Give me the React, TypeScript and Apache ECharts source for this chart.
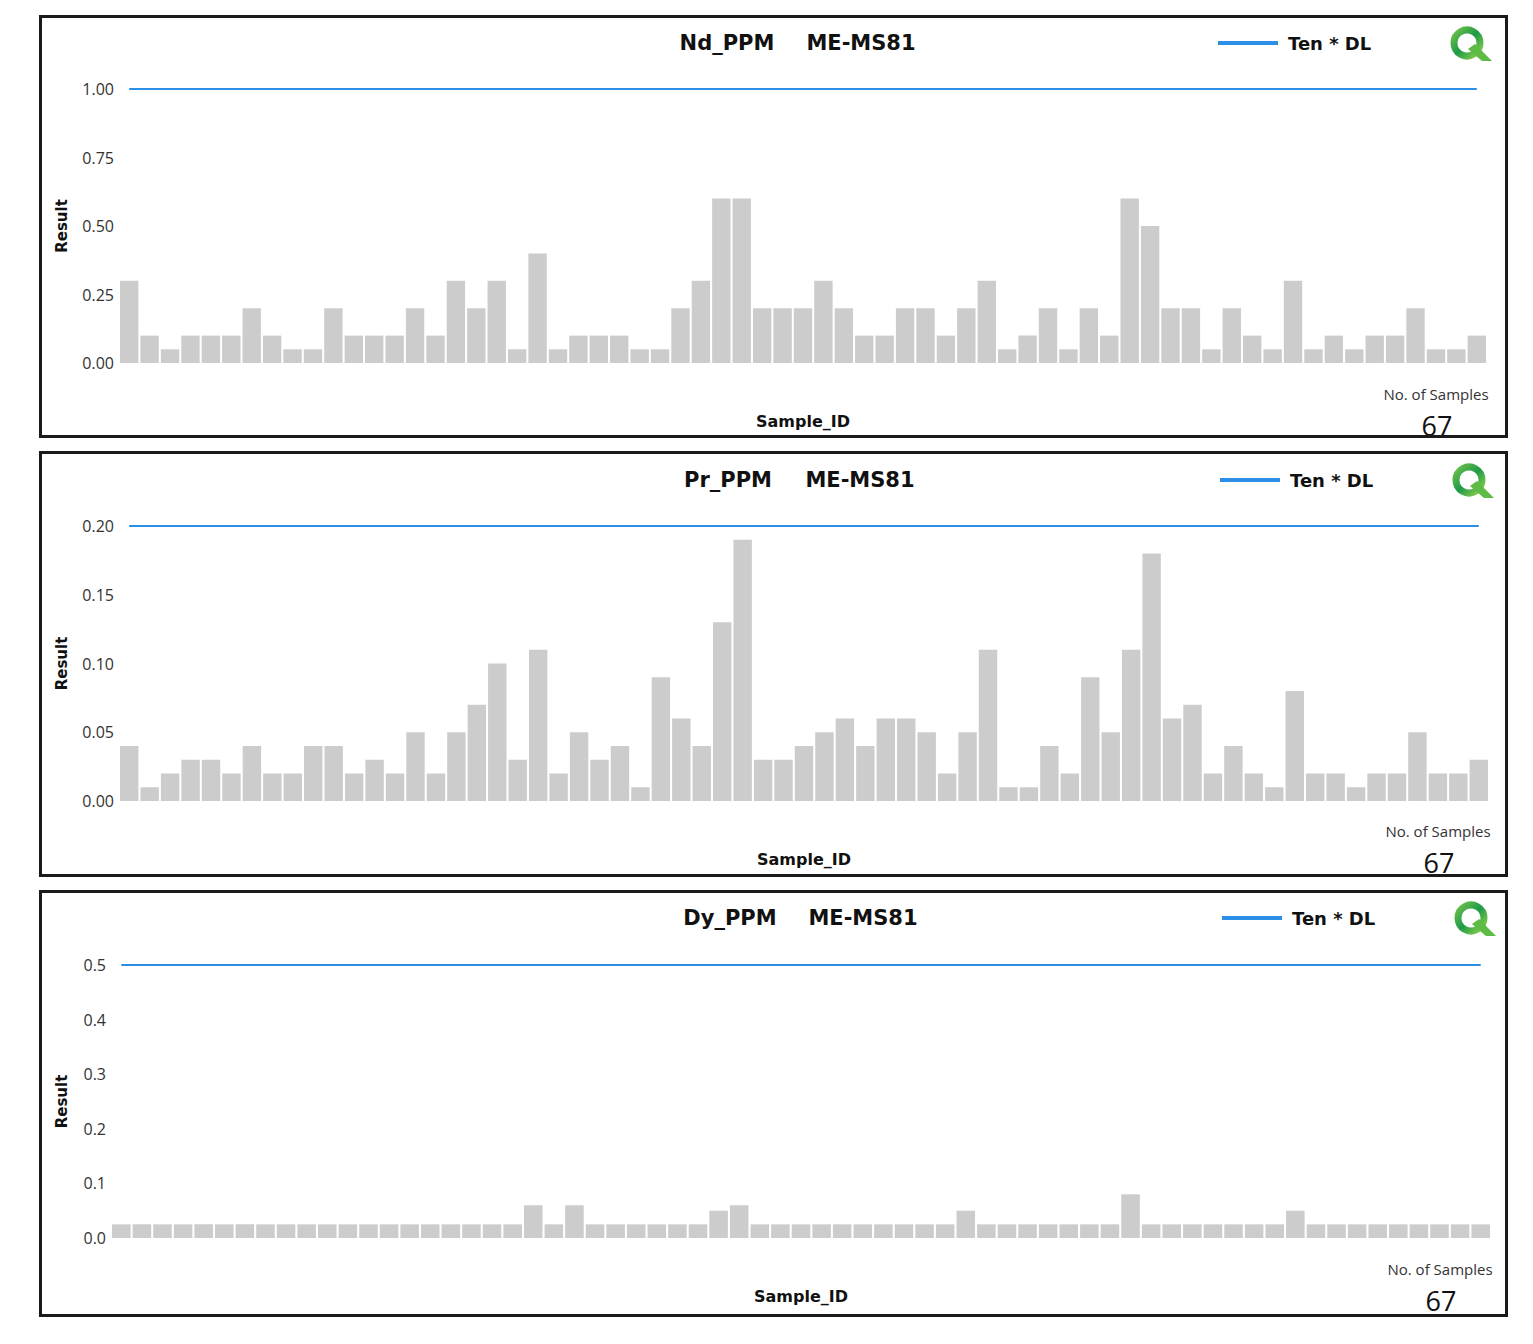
import React, { useEffect, useRef } from "react";
import * as echarts from "echarts";

// ---------- data ----------
const sampleCount = 67;
const categories = Array.from({ length: sampleCount }, (_, i) => String(i + 1));

const ndValues = [
  0.3, 0.1, 0.05, 0.1, 0.1, 0.1, 0.2, 0.1, 0.05, 0.05,
  0.2, 0.1, 0.1, 0.1, 0.2, 0.1, 0.3, 0.2, 0.3, 0.05,
  0.4, 0.05, 0.1, 0.1, 0.1, 0.05, 0.05, 0.2, 0.3, 0.6,
  0.6, 0.2, 0.2, 0.2, 0.3, 0.2, 0.1, 0.1, 0.2, 0.2,
  0.1, 0.2, 0.3, 0.05, 0.1, 0.2, 0.05, 0.2, 0.1, 0.6,
  0.5, 0.2, 0.2, 0.05, 0.2, 0.1, 0.05, 0.3, 0.05, 0.1,
  0.05, 0.1, 0.1, 0.2, 0.05, 0.05, 0.1,
];

const prValues = [
  0.04, 0.01, 0.02, 0.03, 0.03, 0.02, 0.04, 0.02, 0.02, 0.04,
  0.04, 0.02, 0.03, 0.02, 0.05, 0.02, 0.05, 0.07, 0.1, 0.03,
  0.11, 0.02, 0.05, 0.03, 0.04, 0.01, 0.09, 0.06, 0.04, 0.13,
  0.19, 0.03, 0.03, 0.04, 0.05, 0.06, 0.04, 0.06, 0.06, 0.05,
  0.02, 0.05, 0.11, 0.01, 0.01, 0.04, 0.02, 0.09, 0.05, 0.11,
  0.18, 0.06, 0.07, 0.02, 0.04, 0.02, 0.01, 0.08, 0.02, 0.02,
  0.01, 0.02, 0.02, 0.05, 0.02, 0.02, 0.03,
];

const dyValues = [
  0.025, 0.025, 0.025, 0.025, 0.025, 0.025, 0.025, 0.025, 0.025, 0.025,
  0.025, 0.025, 0.025, 0.025, 0.025, 0.025, 0.025, 0.025, 0.025, 0.025,
  0.06, 0.025, 0.06, 0.025, 0.025, 0.025, 0.025, 0.025, 0.025, 0.05,
  0.06, 0.025, 0.025, 0.025, 0.025, 0.025, 0.025, 0.025, 0.025, 0.025,
  0.025, 0.05, 0.025, 0.025, 0.025, 0.025, 0.025, 0.025, 0.025, 0.08,
  0.025, 0.025, 0.025, 0.025, 0.025, 0.025, 0.025, 0.05, 0.025, 0.025,
  0.025, 0.025, 0.025, 0.025, 0.025, 0.025, 0.025,
];

const elements = ["Nd_PPM", "Pr_PPM", "Dy_PPM"];
const methodCode = "ME-MS81";
const limitName = "Ten * DL";
const tenTimesDL = [1.0, 0.2, 0.5];
const yMax = [1.0, 0.2, 0.5];
const yInterval = [0.25, 0.05, 0.1];
const yDecimals = [2, 2, 1];
const seriesValues = [ndValues, prValues, dyValues];

// ---------- layout (page pixels) ----------
const layout = [
  { box: [39, 15, 1508, 438], grid: [119, 89, 1368, 274], title: [727, 861, 43], legend: [1218, 46], logo: [1450, 26], count: [1436, 394, 425], yName: 50 },
  { box: [39, 451, 1508, 877], grid: [119, 526, 1370, 275], title: [728, 860, 480], legend: [1220, 483], logo: [1452, 463], count: [1438, 831, 862], yName: 50 },
  { box: [39, 890, 1508, 1317], grid: [111, 965, 1380, 273], title: [730, 863, 918], legend: [1222, 921], logo: [1454, 901], count: [1440, 1269, 1300], yName: 42 },
];

const BLUE = "#2b8fe8";
const BAR = "#cccccc";
const SANS = "'Open Sans', 'Noto Sans', sans-serif";
const BOLD = "'DejaVu Sans', sans-serif";

function buildOption() {
  const grid: any[] = [];
  const xAxis: any[] = [];
  const yAxis: any[] = [];
  const series: any[] = [];
  const legend: any[] = [];
  const graphic: any[] = [];

  layout.forEach((L, i) => {
    const [gx, gy, gw, gh] = L.grid;
    grid.push({ left: gx, top: gy, width: gw, height: gh, containLabel: false });
    xAxis.push({
      type: "category",
      gridIndex: i,
      data: categories,
      boundaryGap: true,
      axisLine: { show: false },
      axisTick: { show: false },
      axisLabel: { show: false },
      name: "Sample_ID",
      nameLocation: "middle",
      nameGap: 50,
      nameTextStyle: { fontFamily: BOLD, fontWeight: "bold", fontSize: 16, color: "#111" },
    });
    yAxis.push({
      type: "value",
      gridIndex: i,
      min: 0,
      max: yMax[i],
      interval: yInterval[i],
      axisLine: { show: false },
      axisTick: { show: false },
      splitLine: { show: false },
      axisLabel: {
        margin: 5,
        fontFamily: SANS,
        fontSize: 16,
        color: "#333",
        formatter: (v: number) => v.toFixed(yDecimals[i]),
      },
      name: "Result",
      nameLocation: "middle",
      nameRotate: 90,
      nameGap: L.yName,
      nameTextStyle: { fontFamily: BOLD, fontWeight: "bold", fontSize: 15, color: "#111" },
    });
    series.push({
      type: "bar",
      name: elements[i],
      xAxisIndex: i,
      yAxisIndex: i,
      data: seriesValues[i],
      barCategoryGap: "10%",
      itemStyle: { color: BAR },
      silent: true,
    });
    series.push({
      type: "line",
      name: limitName,
      xAxisIndex: i,
      yAxisIndex: i,
      data: categories.map(() => tenTimesDL[i]),
      symbol: "none",
      lineStyle: { color: BLUE, width: 2 },
      itemStyle: { color: BLUE },
      silent: true,
    });
    legend.push({
      data: [limitName],
      left: L.legend[0],
      top: L.legend[1] - 12,
      padding: 0,
      icon: "rect",
      itemWidth: 60,
      itemHeight: 4,
      selectedMode: false,
      textStyle: { fontFamily: BOLD, fontWeight: "bold", fontSize: 18, color: "#111", padding: [0, 0, 4, 5] },
    });

    // panel border
    const [x1, y1, x2, y2] = L.box;
    graphic.push({
      type: "rect",
      shape: { x: x1 + 1.5, y: y1 + 1.5, width: x2 - x1 - 3, height: y2 - y1 - 3 },
      style: { fill: "none", stroke: "#1a1a1a", lineWidth: 3 },
      z: 100,
    });
    // title
    graphic.push({
      type: "text",
      x: L.title[0],
      y: L.title[2],
      style: { text: elements[i], textAlign: "center", textVerticalAlign: "middle", font: `bold 21px ${BOLD}`, fill: "#111" },
    });
    graphic.push({
      type: "text",
      x: L.title[1],
      y: L.title[2],
      style: { text: methodCode, textAlign: "center", textVerticalAlign: "middle", font: `bold 21px ${BOLD}`, fill: "#111" },
    });
    // sample count
    graphic.push({
      type: "text",
      x: L.count[0],
      y: L.count[1],
      style: { text: "No. of Samples", textAlign: "center", textVerticalAlign: "middle", font: `15px ${SANS}`, fill: "#333" },
    });
    graphic.push({
      type: "text",
      x: L.count[0] + 1,
      y: L.count[2],
      style: { text: String(seriesValues[i].length), textAlign: "center", textVerticalAlign: "middle", font: `27px ${SANS}`, fill: "#111" },
    });
    // logo Q
    const [lx, ly] = L.logo;
    const grad = new echarts.graphic.LinearGradient(0, 0, 1, 1, [
      { offset: 0, color: "#6cc04a" },
      { offset: 0.5, color: "#1f9a48" },
      { offset: 1, color: "#8fd04c" },
    ]);
    graphic.push({
      type: "circle",
      shape: { cx: lx + 17, cy: ly + 17, r: 13 },
      style: { fill: "none", stroke: grad, lineWidth: 7 },
    });
    graphic.push({
      type: "polygon",
      shape: { points: [[lx + 18, ly + 23], [lx + 25, ly + 18], [lx + 42, ly + 35], [lx + 32, ly + 35]] },
      style: { fill: "#5dbb46" },
    });
  });

  return {
    animation: false,
    backgroundColor: "#ffffff",
    grid,
    xAxis,
    yAxis,
    series,
    legend,
    graphic,
  };
}

export default function App() {
  const ref = useRef<HTMLDivElement>(null);
  useEffect(() => {
    if (!ref.current) return;
    const chart = echarts.init(ref.current, null, { renderer: "svg" });
    chart.setOption(buildOption() as any);
    return () => chart.dispose();
  }, []);
  return (
    <div
      ref={ref}
      style={{ position: "absolute", left: 0, top: 0, width: 1533, height: 1344 }}
    />
  );
}
